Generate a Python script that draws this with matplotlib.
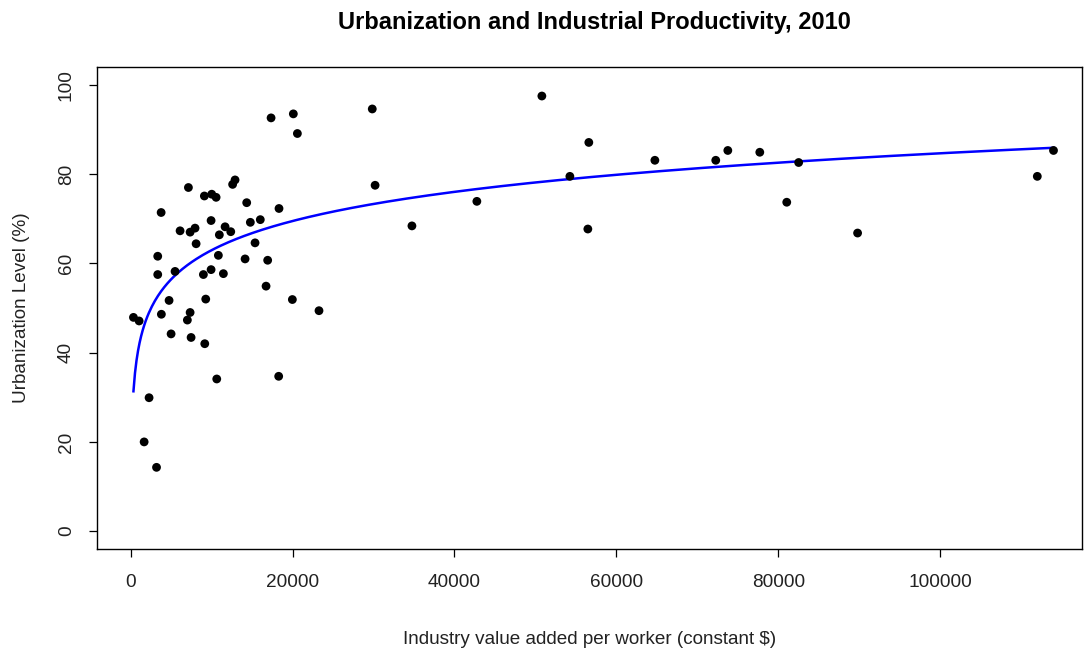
import numpy as np
import matplotlib
matplotlib.use("Agg")
import matplotlib.pyplot as plt

plt.rcParams['font.family'] = ['Liberation Sans', 'DejaVu Sans']

# Industry value added per worker (constant $)
industry = [17350, 20100, 20600, 12900, 12600, 7140, 9110, 10020, 10560, 14340,
            18330, 3770, 9940, 14790, 16020, 6110, 7350, 7960, 11670, 10960,
            12370, 8090, 15370, 3350, 10840, 14140, 16930, 3350, 5490, 8990,
            9940, 11460, 16730, 19980, 23270, 4750, 9280, 350, 1050, 3800,
            7350, 7010, 5000, 7470, 9160, 10640, 18290, 2280, 1670, 3200,
            29850, 30200, 34750, 42770, 50800, 54260, 56600, 56480, 64760, 72280,
            73770, 77720, 81050, 82520, 89800, 112000, 114000]
# Urbanization level (%)
urban = [92.6, 93.5, 89.1, 78.7, 77.7, 77.0, 75.1, 75.5, 74.8, 73.6,
         72.3, 71.4, 69.6, 69.2, 69.8, 67.3, 67.0, 67.9, 68.2, 66.4,
         67.1, 64.4, 64.6, 61.6, 61.8, 61.0, 60.7, 57.5, 58.2, 57.5,
         58.6, 57.7, 54.9, 51.9, 49.4, 51.7, 52.0, 47.9, 47.1, 48.6,
         49.0, 47.3, 44.2, 43.4, 42.0, 34.1, 34.7, 29.9, 20.0, 14.3,
         94.6, 77.5, 68.4, 73.9, 97.5, 79.5, 87.1, 67.7, 83.1, 83.1,
         85.3, 84.9, 73.7, 82.6, 66.8, 79.5, 85.3]

# logarithmic fit: urban = a + b * ln(industry)
fit_a = -23.9
fit_b = 9.43

x_ticks = [0, 20000, 40000, 60000, 80000, 100000]
y_ticks = [0, 20, 40, 60, 80, 100]

fig = plt.figure(figsize=(10.84, 6.55), dpi=100)
ax = fig.add_axes([0.0895, 0.1618, 0.9085, 0.7359])

ax.scatter(industry, urban, s=40, color='black', edgecolors='none', zorder=3)
xs = np.linspace(min(industry), max(industry), 600)
ax.plot(xs, fit_a + fit_b * np.log(xs), color='#0000ff', lw=1.8, zorder=2)

ax.set_xlim(-4150, 117500)
ax.set_ylim(-4, 104)
ax.set_xticks(x_ticks)
ax.set_xticklabels([str(v) for v in x_ticks])
ax.set_yticks(y_ticks)
ax.set_yticklabels([str(v) for v in y_ticks], rotation=90, va='center')

for s in ax.spines.values():
    s.set_linewidth(1.0)
    s.set_color('black')

ax.tick_params(axis='both', direction='out', length=5.5, width=0.9,
               labelsize=13.7, colors='black', labelcolor='#222222')
ax.tick_params(axis='x', pad=12.5)
ax.tick_params(axis='y', pad=10.5)

ax.set_xlabel('Industry value added per worker (constant $)', fontsize=13.6,
              color='#222222', labelpad=29)
ax.set_ylabel('Urbanization Level (%)', fontsize=13.6, color='#222222', labelpad=20)
fig.text(0.548, 0.965, 'Urbanization and Industrial Productivity, 2010',
         ha='center', va='center', fontsize=17, fontweight='bold')

fig.savefig('out.png', dpi=100)
